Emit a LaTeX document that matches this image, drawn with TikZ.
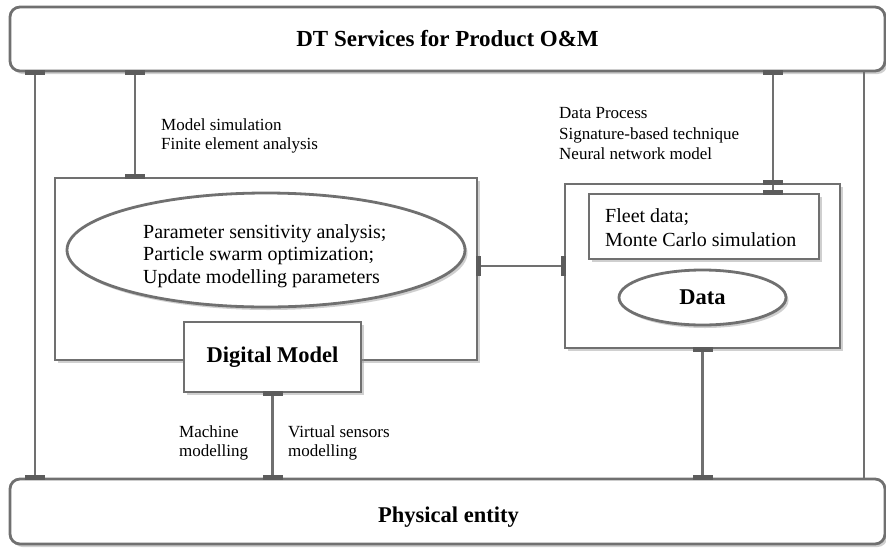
\documentclass[tikz,border=0pt]{standalone}
\usepackage{fontspec}
\setmainfont{Liberation Serif}
\usetikzlibrary{shapes.geometric,shadows}
\definecolor{linegray}{RGB}{112,112,112}
\definecolor{bargray}{RGB}{92,92,92}
\definecolor{shadowgray}{RGB}{150,150,150}
\newcommand\myfs[2]{\fontsize{#1}{#2}\selectfont}
\begin{document}
\begin{tikzpicture}[x=1pt,y=-1pt,
  box/.style={draw=linegray,line width=2.8pt,fill=white,inner sep=0pt,
    drop shadow={shadow xshift=2.5pt,shadow yshift=-3pt,opacity=0.45,fill=shadowgray}},
  roundbar/.style={box,rounded corners=10pt},
  conn/.style={draw=linegray,line width=2.8pt},
  hbar/.style={fill=bargray,draw=none,minimum width=20pt,minimum height=4.5pt,inner sep=0pt,outer sep=0pt},
  vbar/.style={fill=bargray,draw=none,minimum width=4.5pt,minimum height=20pt,inner sep=0pt,outer sep=0pt},
  lbl/.style={align=left,anchor=north west,inner sep=0pt},
  boldtxt/.style={font=\myfs{22.5}{27}\bfseries}
]
\useasboundingbox (0,0) rectangle (886,547);
\coordinate (xl) at (35,0);
\coordinate (xr) at (864,0);
\coordinate (xm) at (135,0);
\coordinate (xd) at (773,0);

% main blocks
\node[roundbar,minimum width=875pt,minimum height=64pt,font=\myfs{23}{27}\bfseries] (top) at (447.5,39) {DT Services for Product O\&M};
\node[roundbar,minimum width=875pt,minimum height=65pt] (bot) at (447.5,511.5) {};
\node[boldtxt,anchor=base,inner sep=0pt] (pe) at (448.5,522) {Physical entity};

\node[box,minimum width=422pt,minimum height=182pt] (lbox) at (266,269) {};
\node[box,ellipse,minimum width=398pt,minimum height=114pt] (ell) at (266,250) {};
\node[lbl,font=\myfs{20}{22.5}] (elltxt) at (143,224.2) {Parameter sensitivity analysis;\\Particle swarm optimization;\\Update modelling parameters};
\node[box,minimum width=177pt,minimum height=70pt,boldtxt] (dm) at (272.5,357) {Digital Model};

\node[box,minimum width=275pt,minimum height=164pt] (rbox) at (702.5,266) {};
\node[box,minimum width=230pt,minimum height=65pt] (fleet) at (704,226.5) {};
\node[lbl,font=\myfs{20}{24}] (fleettxt) at (605,208.2) {Fleet data;\\Monte Carlo simulation};
\node[box,ellipse,minimum width=167pt,minimum height=55pt,boldtxt] (data) at (702.5,297.5) {Data};

% labels
\node[lbl,font=\myfs{17}{19}] (msim) at (161,118.3) {Model simulation\\Finite element analysis};
\node[lbl,font=\myfs{17}{20.5}] (dproc) at (559,107.3) {Data Process\\Signature-based technique\\Neural network model};
\node[lbl,font=\myfs{17}{19}] (mach) at (179,425.3) {Machine\\modelling};
\node[lbl,font=\myfs{17}{19}] (virt) at (288,425.3) {Virtual sensors\\modelling};

% connectors
\draw[conn] (top.south -| xl) -- node[pos=0,hbar]{} node[pos=1,hbar]{} (bot.north -| xl);
\draw[conn] (top.south -| xr) -- (bot.north -| xr);
\draw[conn] (top.south -| xm) -- node[pos=0,hbar]{} node[pos=1,hbar]{} (lbox.north -| xm);
\draw[conn] (top.south -| xd) -- node[pos=0,hbar]{} node[pos=1,hbar]{} (fleet.north -| xd);
\node[hbar] (rbmark) at (rbox.north -| xd) {};
\draw[conn] (lbox.east |- rbox.west) -- node[pos=0,vbar]{} node[pos=1,vbar]{} (rbox.west);
\draw[conn] (dm.south) -- node[pos=0,hbar]{} node[pos=1,hbar]{} (bot.north -| dm.south);
\draw[conn] (rbox.south) -- node[pos=0,hbar]{} node[pos=1,hbar]{} (bot.north -| rbox.south);
\end{tikzpicture}
\end{document}
